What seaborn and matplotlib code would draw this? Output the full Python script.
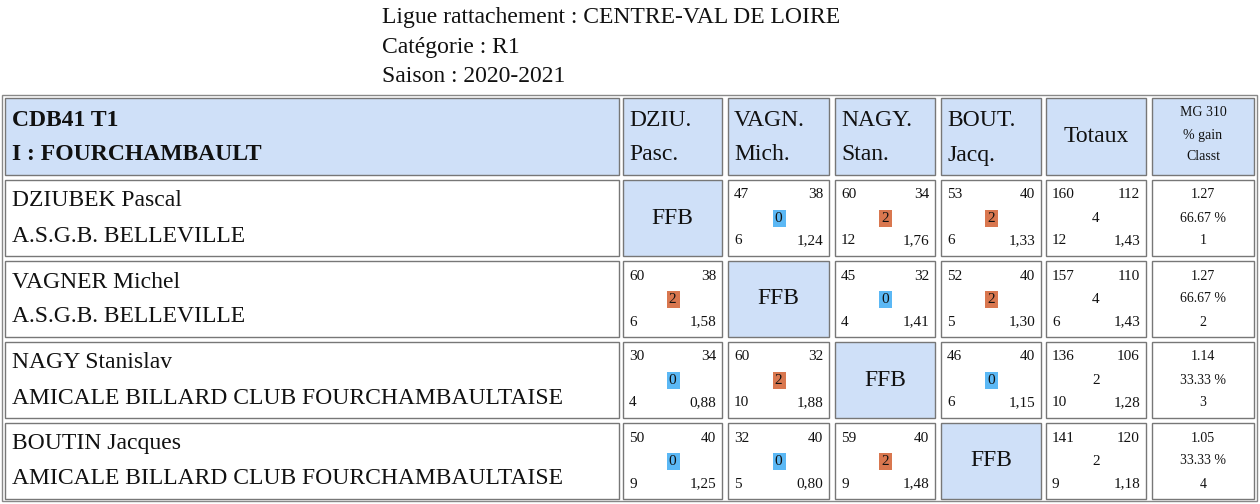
import matplotlib
matplotlib.use("Agg")
import matplotlib.pyplot as plt
import matplotlib.patches as mp
import seaborn as sns

sns.set_style("white")
plt.rcParams["font.family"] = "serif"
plt.rcParams["font.serif"] = ["Liberation Serif", "Times New Roman", "DejaVu Serif"]

title_lines = ["Ligue rattachement : CENTRE-VAL DE LOIRE", "Catégorie : R1", "Saison : 2020-2021"]
header_team = ["CDB41 T1", "I : FOURCHAMBAULT"]
abbrevs = [("DZIU.", "Pasc."), ("VAGN.", "Mich."), ("NAGY.", "Stan."), ("BOUT.", "Jacq.")]
players = ["DZIUBEK Pascal", "VAGNER Michel", "NAGY Stanislav", "BOUTIN Jacques"]
clubs = ["A.S.G.B. BELLEVILLE", "A.S.G.B. BELLEVILLE",
         "AMICALE BILLARD CLUB FOURCHAMBAULTAISE", "AMICALE BILLARD CLUB FOURCHAMBAULTAISE"]
matches = [
    [None, (47, 38, 0, 6, "1,24"), (60, 34, 2, 12, "1,76"), (53, 40, 2, 6, "1,33")],
    [(60, 38, 2, 6, "1,58"), None, (45, 32, 0, 4, "1,41"), (52, 40, 2, 5, "1,30")],
    [(30, 34, 0, 4, "0,88"), (60, 32, 2, 10, "1,88"), None, (46, 40, 0, 6, "1,15")],
    [(50, 40, 0, 9, "1,25"), (32, 40, 0, 5, "0,80"), (59, 40, 2, 9, "1,48"), None],
]
totals = [(160, 112, 4, 12, "1,43"), (157, 110, 4, 6, "1,43"),
          (136, 106, 2, 10, "1,28"), (141, 120, 2, 9, "1,18")]
mg = [("1.27", "66.67 %", "1"), ("1.27", "66.67 %", "2"),
      ("1.14", "33.33 %", "3"), ("1.05", "33.33 %", "4")]

HDR = "#cfe0f8"
BLUE = "#5bb8f5"
ORANGE = "#d9774f"

fig = plt.figure(figsize=(12.6, 5.04), dpi=100)
ax = fig.add_axes([0, 0, 1, 1])
ax.set_xlim(0, 1260)
ax.set_ylim(504, 0)
ax.axis("off")

def T(x, y, s, size, ha="left", weight="normal"):
    ax.text(x, y, s, fontsize=size, ha=ha, va="center", weight=weight, color="#111")

for i, l in enumerate(title_lines):
    T(382, 17 + 30 * i, l, 17)

ax.add_patch(mp.Rectangle((2, 95), 1255, 406, fill=False, ec="#888", lw=1))
cols = [(5, 619), (623, 722), (728, 829), (835, 935), (941, 1041), (1046, 1146), (1152, 1254)]
rows = [(98, 175), (180, 256), (261, 337), (342, 418), (423, 499)]

def cell(c, r, fill):
    x0, x1 = cols[c]; y0, y1 = rows[r]
    ax.add_patch(mp.Rectangle((x0, y0), x1 - x0, y1 - y0, fc=fill, ec="#777", lw=1))
    return x0, x1, y0, y1

x0, x1, y0, y1 = cell(0, 0, HDR)
T(x0 + 7, 121, header_team[0], 17, weight="bold")
T(x0 + 7, 155, header_team[1], 17, weight="bold")
for j, (a, b) in enumerate(abbrevs):
    x0, x1, y0, y1 = cell(j + 1, 0, HDR)
    T(x0 + 6, 121, a, 17)
    T(x0 + 6, 155, b, 17)
x0, x1, y0, y1 = cell(5, 0, HDR)
T((x0 + x1) / 2, 137, "Totaux", 17, ha="center")
x0, x1, y0, y1 = cell(6, 0, HDR)
for k, s in enumerate(["MG 310", "% gain", "Classt"]):
    T((x0 + x1) / 2, 113 + 22 * k, s, 10, ha="center")

def block(c, r, d, badge=True):
    x0, x1, y0, y1 = cell(c, r, "white")
    ym = (y0 + y1) / 2
    T(x0 + 6, y0 + 15, str(d[0]), 11)
    T(x1 - 6, y0 + 15, str(d[1]), 11, ha="right")
    xm = (x0 + x1) / 2
    if badge:
        ax.add_patch(mp.Rectangle((xm - 6, ym - 8), 13, 17,
                                  fc=BLUE if d[2] == 0 else ORANGE, ec="none"))
    T(xm, ym + 0.5, str(d[2]), 11, ha="center")
    T(x0 + 6, y1 - 15, str(d[3]), 11)
    T(x1 - 6, y1 - 15, str(d[4]), 11, ha="right")

for i in range(4):
    r = i + 1
    x0, x1, y0, y1 = cell(0, r, "white")
    T(x0 + 7, y0 + 21, players[i], 17)
    T(x0 + 7, y0 + 56, clubs[i], 17)
    for j in range(4):
        d = matches[i][j]
        if d is None:
            a0, a1, b0, b1 = cell(j + 1, r, HDR)
            T((a0 + a1) / 2, (b0 + b1) / 2, "FFB", 17, ha="center")
        else:
            block(j + 1, r, d)
    block(5, r, totals[i], badge=False)
    x0, x1, y0, y1 = cell(6, r, "white")
    for k, s in enumerate(mg[i]):
        T((x0 + x1) / 2, y0 + 15 + 23 * k, s, 10, ha="center")

fig.savefig("out.png", dpi=100)
